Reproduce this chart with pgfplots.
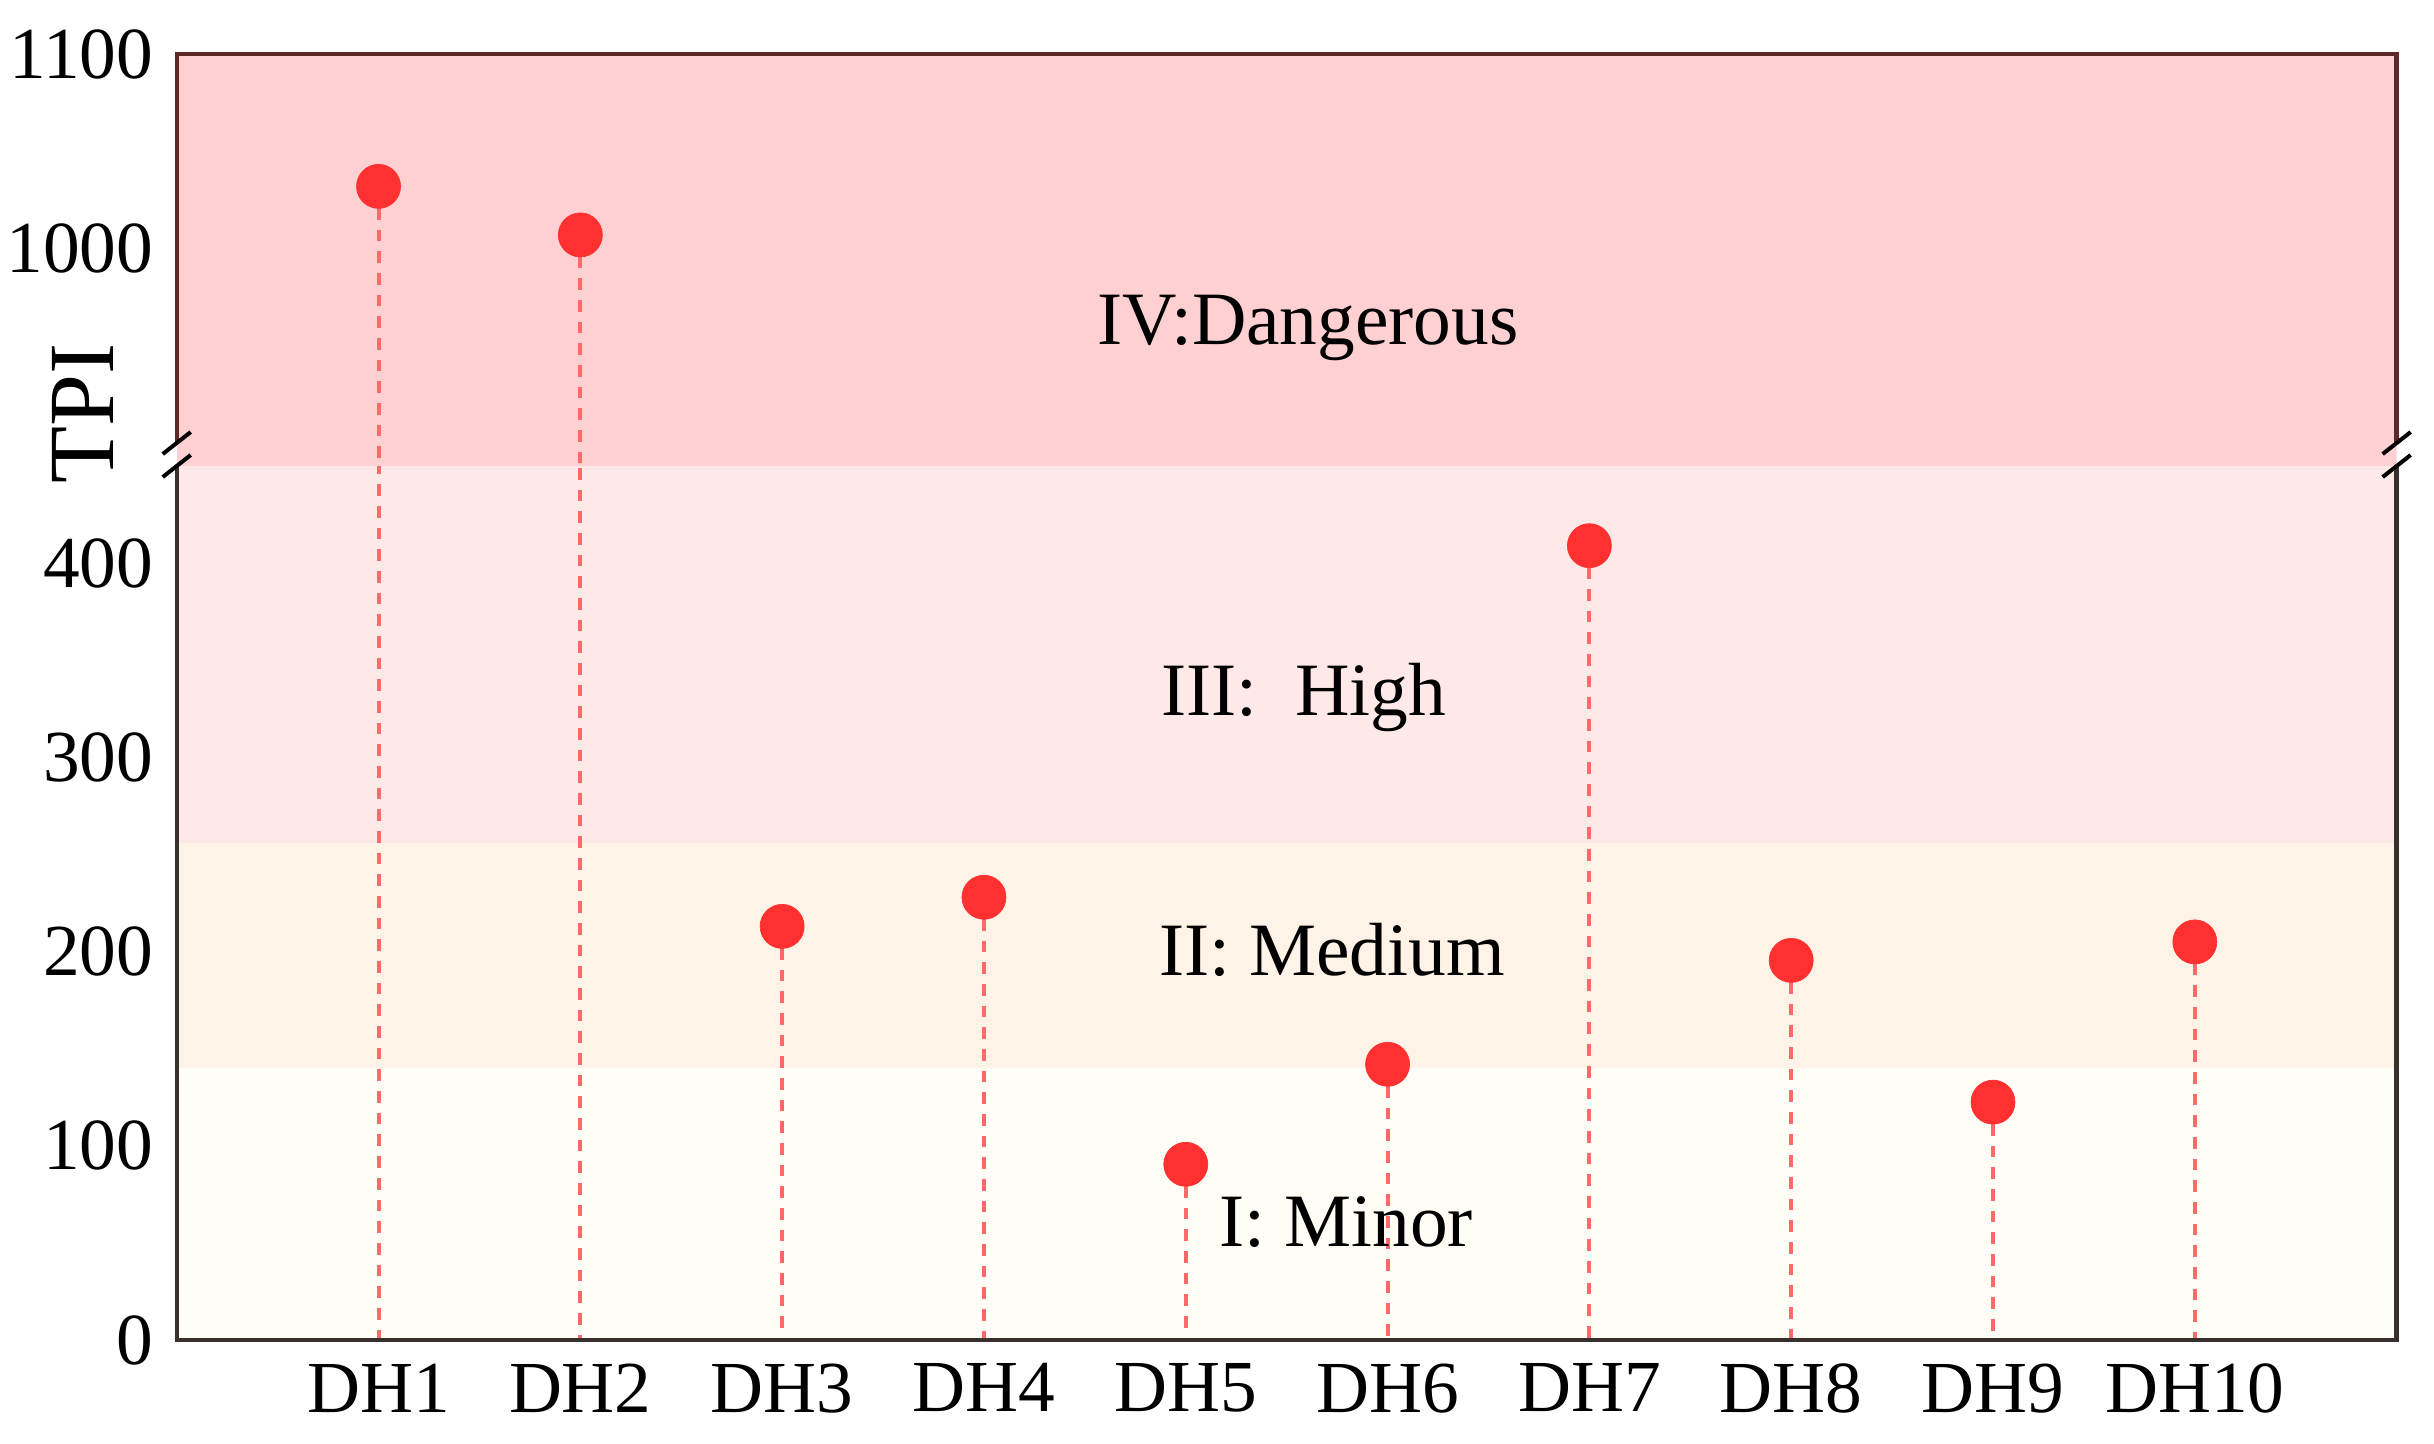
\documentclass[border=0pt]{standalone}
\usepackage{pgfplots}
\pgfplotsset{compat=1.18}
\usepackage{pgfplotstable}
\usepackage{fontspec}
\setmainfont{Liberation Serif}

\definecolor{bandIV}{RGB}{255,208,209}
\definecolor{bandIII}{RGB}{255,232,232}
\definecolor{bandII}{RGB}{255,242,230}
\definecolor{bandI}{RGB}{255,253,246}
\definecolor{dotred}{RGB}{255,48,48}
\definecolor{stemred}{RGB}{255,105,105}
\definecolor{frameup}{RGB}{95,40,40}
\definecolor{framelo}{RGB}{55,48,44}
\definecolor{tickc}{RGB}{90,25,25}

\pgfplotstableread{
x y
1 1032
2 1007
3 213
4 228
5 90.5
6 142
7 409
8 195.5
9 122.5
10 205
}\tpidata

\pgfplotsset{
  brk/.style={
    width=332.9pt, scale only axis, xmin=0, xmax=11,
    axis line style={draw=none},
    tick align=inside, major tick length=1.8pt,
    tick style={tickc, line width=0.45pt},
    tick pos=left,
    tick label style={font=\fontsize{11}{13}\selectfont},
    /pgf/number format/assume math mode=true,
    /pgf/number format/1000 sep={},
  },
  stems/.style={
    draw=none, no markers, forget plot,
    error bars/.cd, y dir=minus, y explicit, error mark=none,
    error bar style={stemred, line width=0.6pt, dash pattern=on 1.75pt off 1.5pt},
  },
  dots/.style={
    color=dotred, only marks, mark=*, mark size=3.3pt,
    mark options={solid, fill=dotred, draw=dotred, line width=0.1pt},
  },
}

\begin{document}
\begin{tikzpicture}
\begin{axis}[brk, name=lower, height=131.07pt, ymin=0, ymax=450,
  ytick={0,100,200,300,400},
  xtick={1,2,3,4,5,6,7,8,9,10},
  xticklabels={DH1,DH2,DH3,DH4,DH5,DH6,DH7,DH8,DH9,DH10}]
  \addplot[draw=none, fill=bandI] coordinates {(0,0) (11,0) (11,140) (0,140)} -- cycle;
  \addplot[draw=none, fill=bandII] coordinates {(0,140) (11,140) (11,256) (0,256)} -- cycle;
  \addplot[draw=none, fill=bandIII] coordinates {(0,256) (11,256) (11,450) (0,450)} -- cycle;
  \addplot[stems] table[x=x, y=y, y error expr=\thisrow{y}] {\tpidata};
  \addplot[dots, restrict y to domain=0:450] table[x=x, y=y] {\tpidata};
  \node[font=\fontsize{11.3}{13}\selectfont] at (axis cs:5.585,331) {III:\ \ High};
  \node[font=\fontsize{11.3}{13}\selectfont] at (axis cs:5.725,201) {II: Medium};
  \node[font=\fontsize{11.3}{13}\selectfont] at (axis cs:5.795,60.5) {I: Minor};
\end{axis}
\begin{axis}[brk, name=upper, at={(0,131.07pt)}, anchor=south west,
  height=61.74pt, ymin=888, ymax=1100,
  ytick={1000,1100}, xtick=\empty]
  \addplot[draw=none, fill=bandIV] coordinates {(0,888) (11,888) (11,1100) (0,1100)} -- cycle;
  \addplot[stems] table[x=x, y=y, y error expr=\thisrow{y}] {\tpidata};
  \addplot[dots, restrict y to domain=888:1100] table[x=x, y=y] {\tpidata};
  \node[font=\fontsize{11.3}{13}\selectfont] at (axis cs:5.605,959) {IV:Dangerous};
\end{axis}
\draw[frameup, line width=0.65pt] ([yshift=3.6pt]upper.south west) -- (upper.north west) -- (upper.north east) -- ([yshift=3.6pt]upper.south east);
\draw[framelo, line width=0.65pt] (lower.north west) -- (lower.south west) -- (lower.south east) -- (lower.north east);
\foreach \a in {upper.south west, upper.south east} {
  \draw[black, line width=0.6pt] ([xshift=-2.1pt,yshift=-1.65pt]\a) -- ([xshift=2.1pt,yshift=1.65pt]\a);
  \draw[black, line width=0.6pt] ([xshift=-2.1pt,yshift=1.8pt]\a) -- ([xshift=2.1pt,yshift=5.1pt]\a);
}
\node[font=\fontsize{14}{16}\selectfont, rotate=90] at ([xshift=-14pt,yshift=139pt]lower.south west) {TPI};
\pgfresetboundingbox
\path[use as bounding box] (-26.5pt,-15.45pt) rectangle (338.5pt,200.96pt);
\end{tikzpicture}
\end{document}
